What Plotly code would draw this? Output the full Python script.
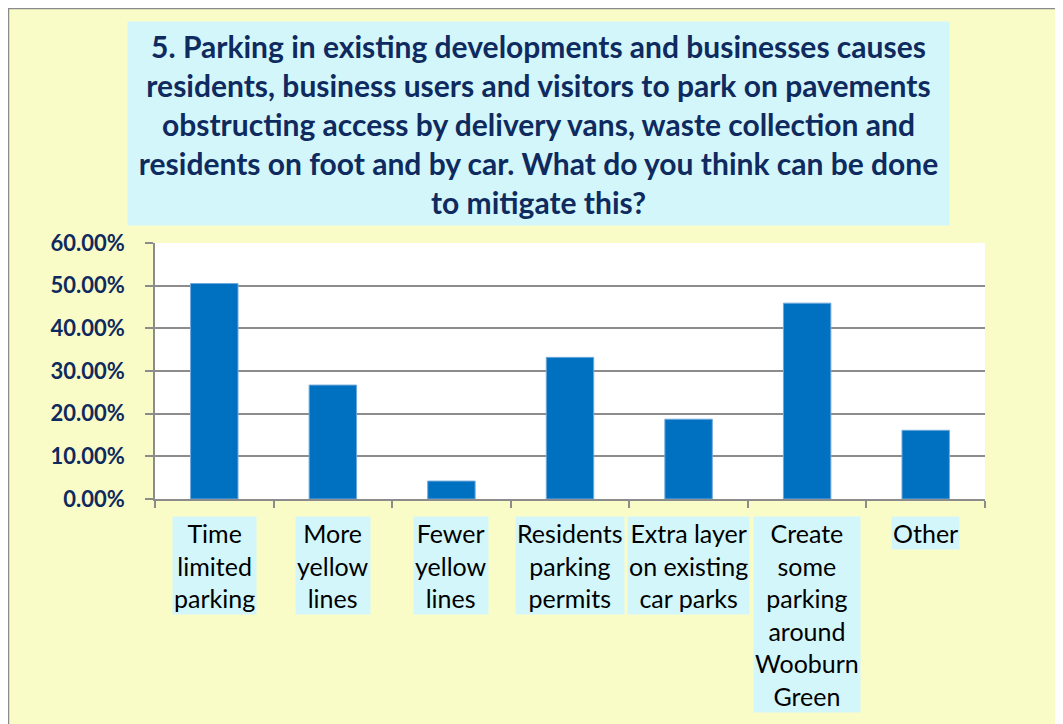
import plotly.graph_objects as go

categories = ["Time limited parking", "More yellow lines", "Fewer yellow lines",
              "Residents parking permits", "Extra layer on existing car parks",
              "Create some parking around Wooburn Green", "Other"]
label_lines = ["Time<br>limited<br>parking", "More<br>yellow<br>lines", "Fewer<br>yellow<br>lines",
               "Residents<br>parking<br>permits", "Extra layer<br>on existing<br>car parks",
               "Create<br>some<br>parking<br>around<br>Wooburn<br>Green", "Other"]
values = [0.505, 0.267, 0.042, 0.332, 0.187, 0.459, 0.161]
y_ticks = [0, 0.1, 0.2, 0.3, 0.4, 0.5, 0.6]
title_text = ("5. Parking in existing developments and businesses causes<br>"
              "residents, business users and visitors to park on pavements<br>"
              "obstructing access by delivery vans, waste collection and<br>"
              "residents on foot and by car. What do you think can be done<br>"
              "to mitigate this?")

W, H = 1063, 724
OFF = 8  # page body margin
L, R, T, B = 155 - OFF, 985 - OFF, 243 - OFF, 499 - OFF
pw, ph = R - L, B - T


def px(x):  # screen x -> paper
    return (x - OFF - L) / pw


def py(y):  # screen y -> paper
    return (B - (y - OFF)) / ph


YELLOW = "#FAFCC8"
CYAN = "#D3F6FB"
NAVY = "#0E2A5E"
GRID = "#8C8C8C"

fig = go.Figure()
fig.add_trace(go.Bar(
    x=categories, y=values,
    marker=dict(color="#0070C0", line=dict(color="#6FA8DC", width=1)),
    width=0.4,
))

annotations = [dict(
    text=title_text, xref="paper", yref="paper",
    x=px(538.5), y=py(123.5), xanchor="center", yanchor="middle",
    showarrow=False, bgcolor=CYAN, width=815, height=197, borderpad=3,
    font=dict(family="Lato", size=30, color=NAVY, weight="bold"), align="center",
)]
for cat, lab in zip(categories, label_lines):
    annotations.append(dict(
        text=lab, x=cat, xref="x", y=py(516), yref="paper",
        xanchor="center", yanchor="top", showarrow=False,
        bgcolor=CYAN, borderpad=1,
        font=dict(family="Lato", size=25, color="#000000"), align="center",
    ))

shapes = [
    dict(type="rect", xref="paper", yref="paper", x0=px(8.5), x1=px(1075), y0=py(8.5), y1=py(740),
         fillcolor="rgba(0,0,0,0)", line=dict(color="#8A8A8A", width=1.5), layer="above"),
]

fig.update_layout(
    width=W, height=H,
    margin=dict(l=L, r=W - R, t=T, b=H - B, pad=0),
    paper_bgcolor=YELLOW, plot_bgcolor="white",
    showlegend=False,
    bargap=0.6,
    annotations=annotations, shapes=shapes,
    xaxis=dict(
        type="category", showticklabels=False, tickson="boundaries",
        ticks="outside", ticklen=7, tickcolor=GRID, tickwidth=1.5,
        showline=True, linecolor=GRID, linewidth=1.5, showgrid=False,
        range=[-0.5, 6.5],
    ),
    yaxis=dict(
        range=[0, 0.6], tickvals=y_ticks, tickformat=".2%",
        ticks="outside", ticklen=8, tickcolor=GRID, tickwidth=1.5,
        showline=True, linecolor=GRID, linewidth=1.5,
        gridcolor=GRID, gridwidth=1.5, zeroline=False,
        ticklabelstandoff=16,
        tickfont=dict(family="Lato", size=22, color=NAVY, weight="bold"),
    ),
)

fig.write_html("out.html")
